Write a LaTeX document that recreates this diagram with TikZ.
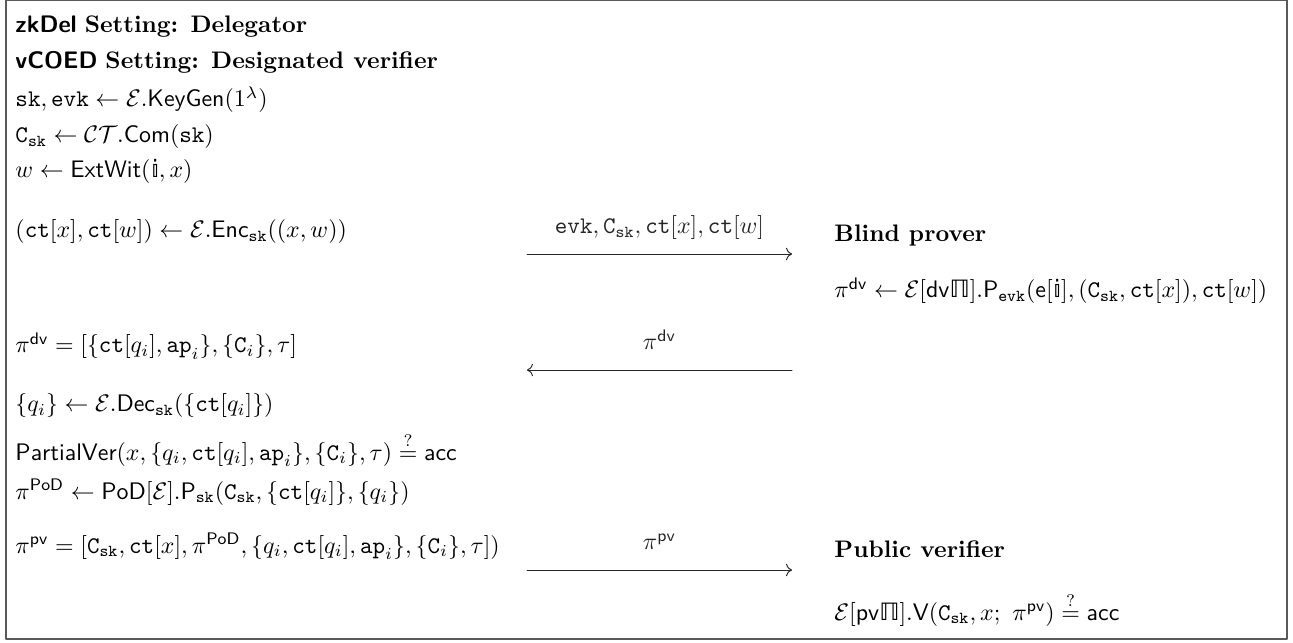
\documentclass[tikz,border=0pt]{standalone}
\usepackage{amsmath}
\usepackage{amssymb}
\usepackage{fontspec}
\newfontfamily\dvsans{DejaVu Sans}
\usetikzlibrary{arrows.meta}

\newcommand{\ttx}[1]{\mathtt{#1}}
\newcommand{\sfx}[1]{\mathsf{#1}}
\newcommand{\Encr}{\mathcal{E}}
\newcommand{\Csk}{\mathtt{C}_{\mathtt{sk}}}
\newcommand{\ctx}[1]{\mathtt{ct}[#1]}
\newcommand{\bbi}{\text{\dvsans 𝕚}}
\newcommand{\bbPi}{\text{\dvsans ℿ}}

\begin{document}
\begin{tikzpicture}[
                x=0.4184pt,
                y=-0.4184pt,
                line cap=round,
                line join=round,
                >=To,
                txt/.style={anchor=base west, inner sep=0pt},
                msg/.style={->, line width=0.4pt, black!85},
                lbl/.style={anchor=base, inner sep=0pt}
            ]

            \useasboundingbox (0,0) rectangle (1293,643);
            \draw[black!65, line width=0.5pt] (6,0) rectangle (1287,639);

            % delegator
            \node[txt] (hd1) at (15,33) {\textsf{\textbf{zkDel}} \textbf{Setting: Delegator}};
            \node[txt] (hd2) at (15,69) {\textsf{\textbf{vCOED}} \textbf{Setting: Designated verifier}};
            \node[txt] (kg) at (15,107) {$\ttx{sk}, \ttx{evk} \leftarrow \Encr.\sfx{KeyGen}(1^{\lambda})$};
            \node[txt] (com) at (15,143) {$\Csk \leftarrow \mathcal{CT}.\sfx{Com}(\ttx{sk})$};
            \node[txt] (wit) at (15,178) {$w \leftarrow \sfx{ExtWit}(\bbi, x)$};
            \node[txt] (enc) at (15,238) {$(\ctx{x}, \ctx{w}) \leftarrow \Encr.\sfx{Enc}_{\ttx{sk}}((x, w))$};
            \node[txt] (pdv) at (15,353) {$\pi^{\sfx{dv}} = [\{\ctx{q_i}, \ttx{ap}_i\}, \{\ttx{C}_i\}, \tau]$};
            \node[txt] (dec) at (15,412) {$\{q_i\} \leftarrow \Encr.\sfx{Dec}_{\ttx{sk}}(\{\ctx{q_i}\})$};
            \node[txt] (pver) at (15,460) {$\sfx{PartialVer}(x, \{q_i, \ctx{q_i}, \ttx{ap}_i\}, \{\ttx{C}_i\}, \tau) \stackrel{?}{=} \sfx{acc}$};
            \node[txt] (pod) at (15,499) {$\pi^{\sfx{PoD}} \leftarrow \sfx{PoD}[\Encr].\sfx{P}_{\ttx{sk}}(\Csk, \{\ctx{q_i}\}, \{q_i\})$};
            \node[txt] (ppv) at (15,553) {$\pi^{\sfx{pv}} = [\Csk, \ctx{x}, \pi^{\sfx{PoD}}, \{q_i, \ctx{q_i}, \ttx{ap}_i\}, \{\ttx{C}_i\}, \tau])$};

            % provers and verifiers
            \node[txt] (bp) at (834,242) {\textbf{Blind prover}};
            \node[txt] (bpr) at (834,298) {$\pi^{\sfx{dv}} \leftarrow \Encr[\sfx{dv}\bbPi].\sfx{P}_{\ttx{evk}}(\sfx{e}[\bbi], (\Csk, \ctx{x}), \ctx{w})$};
            \node[txt] (pv) at (834,557) {\textbf{Public verifier}};
            \node[txt] (pvr) at (834,620) {$\Encr[\sfx{pv}\bbPi].\sfx{V}(\Csk, x;\ \pi^{\sfx{pv}}) \stackrel{?}{=} \sfx{acc}$};

            % messages
            \coordinate (m1a) at (527,254);
            \coordinate (m1b) at (792,254);
            \coordinate (m2a) at (792,370);
            \coordinate (m2b) at (527,370);
            \coordinate (m3a) at (527,570);
            \coordinate (m3b) at (792,570);

            \draw[msg] (m1a) -- (m1b) node[lbl, midway, yshift=8.4pt] {$\ttx{evk}, \Csk, \ctx{x}, \ctx{w}$};
            \draw[msg] (m2a) -- (m2b) node[lbl, midway, yshift=8.4pt] {$\pi^{\sfx{dv}}$};
            \draw[msg] (m3a) -- (m3b) node[lbl, midway, yshift=8.4pt] {$\pi^{\sfx{pv}}$};

        \end{tikzpicture}
\end{document}
